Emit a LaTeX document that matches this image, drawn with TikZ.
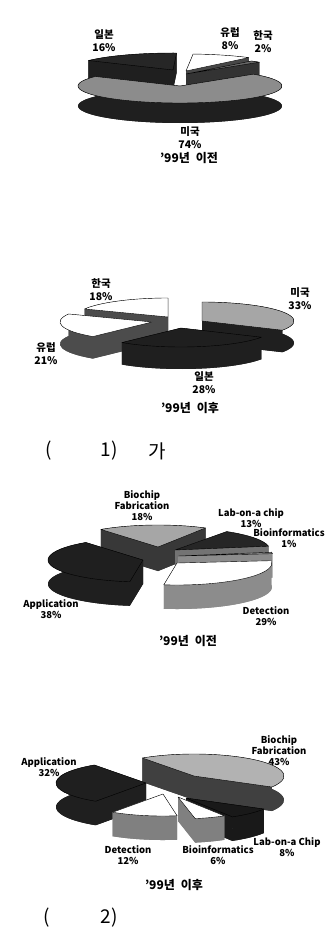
\documentclass[tikz,border=0pt]{standalone}
\usepackage{fontspec}
\setmainfont{Noto Sans CJK KR}
\usepackage{tikz}
\usetikzlibrary{positioning}

% one exploded slice of a 3d pie: centre x, centre y (down), rx, ry, depth, from, to, top, side
\newcommand{\pieslice}[9]{%
  \fill[#9] (#1,-#2-#5) -- ++({#3*cos(#6)},{#4*sin(#6)}) arc[start angle=#6,end angle=#7,x radius=#3,y radius=#4] -- cycle;
  \fill[#9] ({#1+#3*cos(#6)},{-#2+#4*sin(#6)}) arc[start angle=#6,end angle=#7,x radius=#3,y radius=#4] -- ++(0,-#5) arc[start angle=#7,end angle=#6,x radius=#3,y radius=#4] -- cycle;
  \fill[#9] (#1,-#2) -- ++({#3*cos(#6)},{#4*sin(#6)}) -- ++(0,-#5) -- (#1,-#2-#5) -- cycle;
  \fill[#9] (#1,-#2) -- ++({#3*cos(#7)},{#4*sin(#7)}) -- ++(0,-#5) -- (#1,-#2-#5) -- cycle;
  \filldraw[fill=#8,draw=black,line width=0.4pt,line join=round] (#1,-#2) -- ++({#3*cos(#6)},{#4*sin(#6)}) arc[start angle=#6,end angle=#7,x radius=#3,y radius=#4] -- cycle;
}

\tikzset{
  kolbl/.style={font=\bfseries\fontsize{10.5}{13}\selectfont, align=center, inner sep=0pt},
  enlbl/.style={font=\bfseries\fontsize{9.5}{11}\selectfont, align=center, inner sep=0pt},
  yrlbl/.style={font=\bfseries\fontsize{12}{14}\selectfont, inner sep=0pt},
  caplbl/.style={font=\fontsize{19}{22}\selectfont, inner sep=0pt}
}

\begin{document}
\begin{tikzpicture}[x=1pt,y=1pt]
  \useasboundingbox[fill=white] (0,0) rectangle (334,-944);

  %chart 1: before '99
  \pieslice{173}{70}{102}{17}{20}{88}{146}{black!85}{black!88}
  \pieslice{186}{71}{102}{17}{20}{52}{86}{white}{black!72}
  \pieslice{186}{74}{102}{17}{20}{44}{50}{black!60}{black!80}
  \pieslice{180}{86}{102}{17}{20}{146}{404}{black!45}{black!88}
  \node[kolbl] (jp1) at (104,-41) {일본\\16\%};
  \node[kolbl] (eu1) at (230,-39) {유럽\\8\%};
  \node[kolbl] (kr1) at (263,-42) {한국\\2\%};
  \node[kolbl] (us1) at (190,-138) {미국\\74\%};
  \node[yrlbl] (yr1) at (189,-158) {'99년\hspace{0.5em}이전};

  %chart 2: after '99
  \pieslice{168}{317}{92}{19}{22}{90}{155}{white}{black!70}
  \pieslice{202}{321}{92}{19}{22}{-29}{90}{black!35}{black!88}
  \pieslice{152}{322}{92}{19}{22}{155}{230}{white}{black!70}
  \pieslice{181}{328}{92}{19}{22}{230}{331}{black!88}{black!88}
  \node[kolbl] (kr2) at (101,-290) {한국\\18\%};
  \node[kolbl] (us2) at (300,-299) {미국\\33\%};
  \node[kolbl] (eu2) at (46,-354) {유럽\\21\%};
  \node[kolbl] (jp2) at (204,-383) {일본\\28\%};
  \node[yrlbl] (yr2) at (190,-408) {'99년\hspace{0.5em}이후};

  \node[caplbl] (cap1a) at (49,-451) {(};
  \node[caplbl] (cap1b) at (109,-451) {1)};
  \node[caplbl] (cap1c) at (157,-451) {가};

  %chart 3: before '99
  \pieslice{158}{547}{95}{22}{24}{60}{127}{black!35}{black!78}
  \pieslice{175}{550}{95}{22}{24}{10}{57}{black!85}{black!55}
  \pieslice{178}{556}{95}{22}{24}{6}{10}{black!45}{black!45}
  \pieslice{143}{560}{95}{22}{24}{127}{262}{black!88}{black!88}
  \pieslice{177}{563}{95}{22}{24}{262}{366}{white}{black!45}
  \node[enlbl] (bf3) at (142,-506) {Biochip\\Fabrication\\18\%};
  \node[enlbl] (lab3) at (251,-518) {Lab-on-a chip\\13\%};
  \node[enlbl] (bi3) at (289,-538) {Bioinformatics\\1\%};
  \node[enlbl] (ap3) at (51,-609) {Application\\38\%};
  \node[enlbl] (de3) at (266,-616) {Detection\\29\%};
  \node[yrlbl] (yr3) at (188,-641) {'99년\hspace{0.5em}이전};

  %chart 4: after '99
  \pieslice{194}{776}{90}{22}{24}{-30}{125}{black!30}{black!75}
  \pieslice{186}{798}{90}{22}{24}{-59}{-30}{black!90}{black!90}
  \pieslice{146}{783}{90}{22}{24}{125}{236}{black!88}{black!88}
  \pieslice{163}{794}{90}{22}{24}{236}{279}{white}{black!50}
  \pieslice{178}{797}{90}{22}{24}{281}{301}{white}{black!50}
  \node[enlbl] (bf4) at (279,-751) {Biochip\\Fabrication\\43\%};
  \node[enlbl] (ap4) at (49,-767) {Application\\32\%};
  \node[enlbl] (de4) at (128,-855) {Detection\\12\%};
  \node[enlbl] (bi4) at (218,-855) {Bioinformatics\\6\%};
  \node[enlbl] (lab4) at (287,-847) {Lab-on-a Chip\\8\%};
  \node[yrlbl] (yr4) at (174,-885) {'99년\hspace{0.5em}이후};

  \node[caplbl] (cap2a) at (47,-918) {(};
  \node[caplbl] (cap2b) at (109,-918) {2)};
\end{tikzpicture}
\end{document}
